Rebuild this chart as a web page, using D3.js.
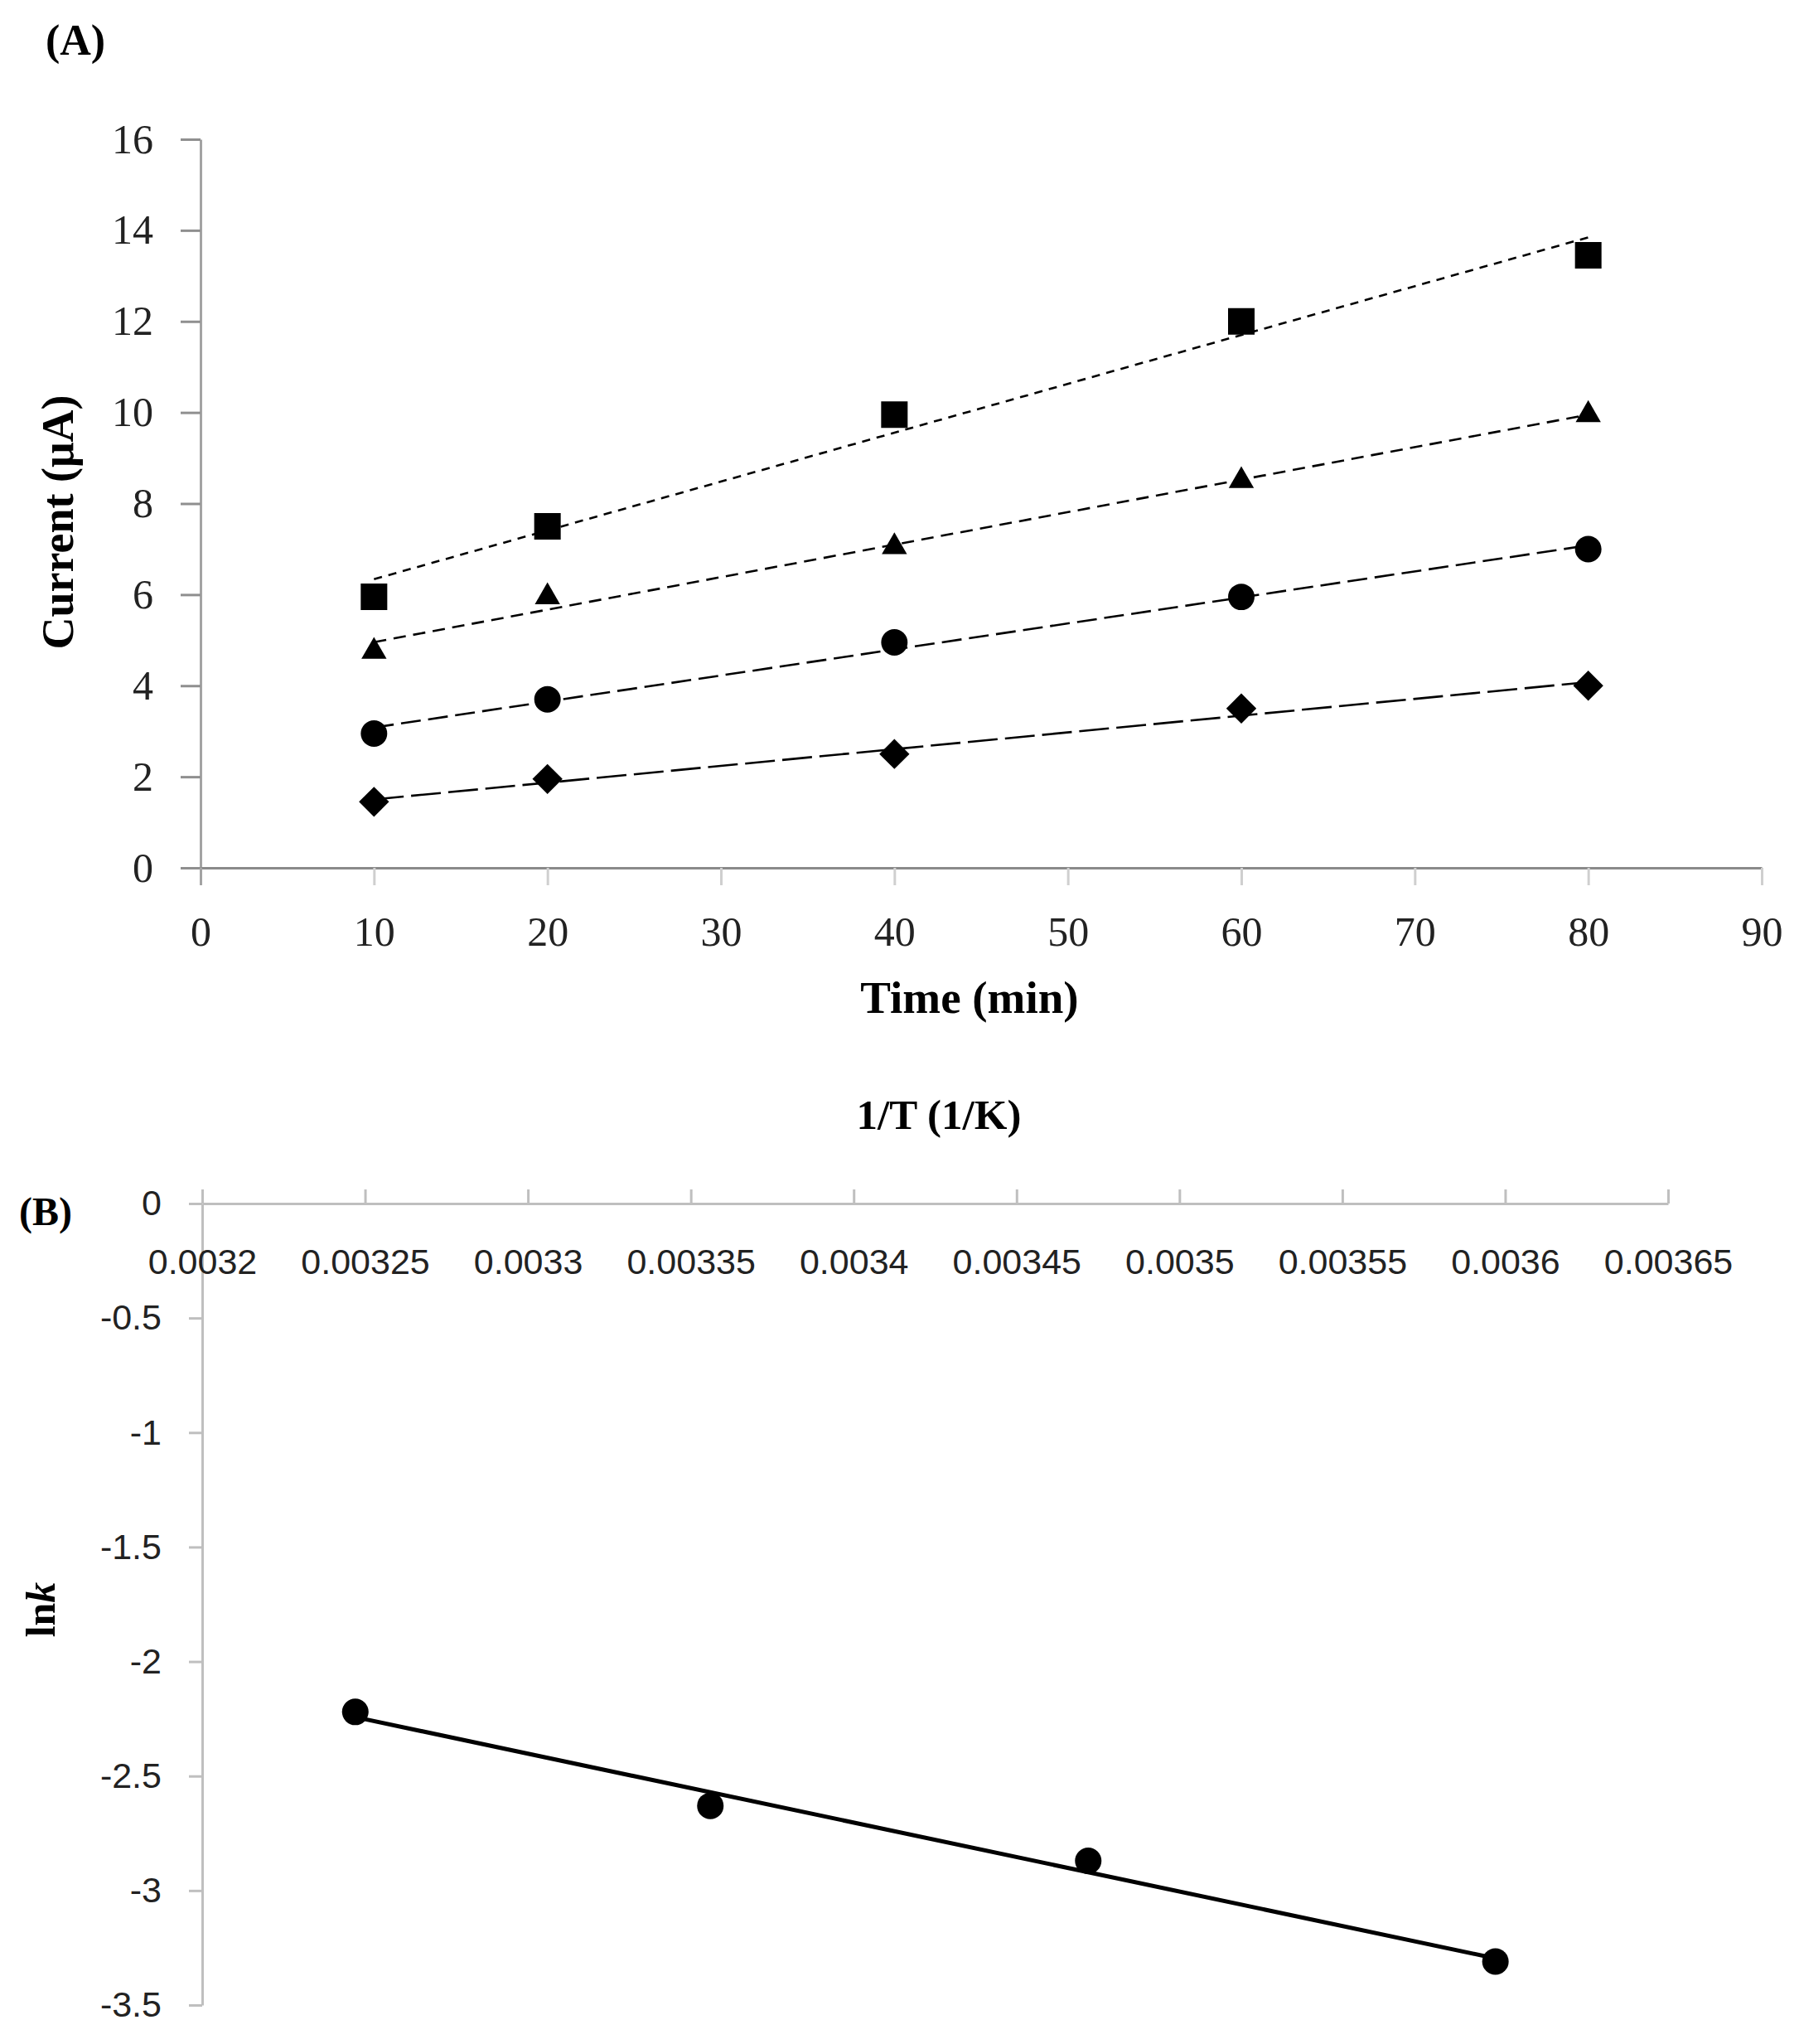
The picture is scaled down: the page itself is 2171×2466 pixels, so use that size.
<!DOCTYPE html>
<html>
<head>
<meta charset="utf-8">
<script src="https://cdn.jsdelivr.net/npm/d3@7"></script>
<style>
  body { margin: 0; background: #fff; }
  svg { display: block; }
  .serif { font-family: "Liberation Serif", "Times New Roman", serif; }
  .sans { font-family: "Liberation Sans", Arial, sans-serif; }
</style>
</head>
<body>
<svg id="chart" width="2171" height="2466"></svg>
<script>
// Panel A: current vs time, four series
const timeMin = [10, 20, 40, 60, 80];
const currentSquare = [5.95, 7.5, 9.95, 12.0, 13.45];
const currentTriangle = [4.75, 5.95, 7.05, 8.5, 9.95];
const currentCircle = [2.95, 3.7, 4.95, 5.95, 7.0];
const currentDiamond = [1.45, 1.95, 2.5, 3.5, 4.0];
const timeTicks = [0, 10, 20, 30, 40, 50, 60, 70, 80, 90];
const currentTicks = [0, 2, 4, 6, 8, 10, 12, 14, 16];

// Panel B: Arrhenius plot
const invTemp = [0.003247, 0.003356, 0.003472, 0.003597];
const lnK = [-2.22, -2.63, -2.87, -3.31];
const invTempTicks = [0.0032, 0.00325, 0.0033, 0.00335, 0.0034, 0.00345, 0.0035, 0.00355, 0.0036, 0.00365];
const lnKTicks = [0, -0.5, -1, -1.5, -2, -2.5, -3, -3.5];

const svg = d3.select("#chart");
svg.append("rect").attr("width", 2171).attr("height", 2466).attr("fill", "#fff");

// least squares line, like the Excel trendline
function linFit(xs, ys) {
  const mx = d3.mean(xs), my = d3.mean(ys);
  let sxy = 0, sxx = 0;
  xs.forEach((x, i) => { sxy += (x - mx) * (ys[i] - my); sxx += (x - mx) * (x - mx); });
  const slope = sxy / sxx;
  return { slope: slope, intercept: my - slope * mx };
}

// ---------- Panel A ----------
const xA = d3.scaleLinear().domain([0, 90]).range([242, 2126]);
const yA = d3.scaleLinear().domain([0, 16]).range([1047, 168]);

const gA = svg.append("g");

const yAxisA = gA.append("g")
  .attr("transform", `translate(${xA(0)},0)`)
  .call(d3.axisLeft(yA).tickValues(currentTicks).tickSize(24).tickSizeOuter(0).tickPadding(33).tickFormat(d => String(d)));
yAxisA.select(".domain").attr("stroke", "#a3a3a3").attr("stroke-width", 3);
yAxisA.selectAll(".tick line").attr("stroke", "#8f8f8f").attr("stroke-width", 3);
yAxisA.selectAll(".tick text").attr("class", "serif").attr("font-size", 50).attr("fill", "#222");

const xAxisA = gA.append("g")
  .attr("transform", `translate(0,${yA(0)})`)
  .call(d3.axisBottom(xA).tickValues(timeTicks).tickSize(21).tickSizeOuter(0).tickPadding(37).tickFormat(d => String(d)));
xAxisA.select(".domain").attr("stroke", "#8a8a8a").attr("stroke-width", 3);
xAxisA.selectAll(".tick line").attr("stroke", "#cfcfcf").attr("stroke-width", 3);
xAxisA.selectAll(".tick text").attr("class", "serif").attr("font-size", 50).attr("fill", "#222");
// the 0 tick continues the vertical axis
xAxisA.selectAll(".tick line").filter(d => d === 0).attr("stroke", "#a3a3a3");

const seriesA = [
  { values: currentSquare, symbol: d3.symbolSquare, size: 1024, rotate: 0, dash: "10,8" },
  { values: currentTriangle, symbol: d3.symbolTriangle, size: 400, rotate: 0, dash: "15,9" },
  { values: currentCircle, symbol: d3.symbolCircle, size: 800, rotate: 0, dash: "24,9" },
  { values: currentDiamond, symbol: d3.symbolSquare, size: 660, rotate: 45, dash: "36,9" }
];

seriesA.forEach(s => {
  const fit = linFit(timeMin, s.values);
  const x0 = d3.min(timeMin), x1 = d3.max(timeMin);
  gA.append("line")
    .attr("x1", xA(x0)).attr("y1", yA(fit.intercept + fit.slope * x0))
    .attr("x2", xA(x1)).attr("y2", yA(fit.intercept + fit.slope * x1))
    .attr("stroke", "#000")
    .attr("stroke-width", 2.6)
    .attr("stroke-dasharray", s.dash);

  gA.selectAll(null)
    .data(timeMin.map((t, i) => [t, s.values[i]]))
    .enter()
    .append("path")
    .attr("d", d3.symbol().type(s.symbol).size(s.size))
    .attr("transform", d => `translate(${xA(d[0])},${yA(d[1])}) rotate(${s.rotate})`)
    .attr("fill", "#000");
});

gA.append("text")
  .attr("class", "serif")
  .attr("x", 55).attr("y", 66)
  .attr("font-size", 52).attr("font-weight", "bold")
  .text("(A)");

gA.append("text")
  .attr("class", "serif")
  .attr("transform", "translate(88,630) rotate(-90)")
  .attr("text-anchor", "middle")
  .attr("font-size", 54).attr("font-weight", "bold")
  .text("Current (μA)");

gA.append("text")
  .attr("class", "serif")
  .attr("x", 1170).attr("y", 1222)
  .attr("text-anchor", "middle")
  .attr("font-size", 55).attr("font-weight", "bold")
  .text("Time (min)");

// ---------- Panel B ----------
const xB = d3.scaleLinear().domain([0.0032, 0.00365]).range([244, 2013]);
const yB = d3.scaleLinear().domain([-3.5, 0]).range([2419, 1452]);

const gB = svg.append("g");

const yAxisB = gB.append("g")
  .attr("transform", `translate(${xB(0.0032)},0)`)
  .call(d3.axisLeft(yB).tickValues(lnKTicks).tickSize(16).tickSizeOuter(0).tickPadding(33).tickFormat(d => String(d)));
yAxisB.select(".domain").attr("stroke", "#bfbfbf").attr("stroke-width", 3);
yAxisB.selectAll(".tick line").attr("stroke", "#bfbfbf").attr("stroke-width", 3);
yAxisB.selectAll(".tick text").attr("class", "sans").attr("font-size", 43).attr("fill", "#222");

const xAxisB = gB.append("g")
  .attr("transform", `translate(0,${yB(0)})`)
  .call(d3.axisBottom(xB).tickValues(invTempTicks).tickSize(-17).tickSizeOuter(0).tickPadding(54).tickFormat(d => String(d)));
xAxisB.select(".domain").attr("stroke", "#bfbfbf").attr("stroke-width", 3);
xAxisB.selectAll(".tick line").attr("stroke", "#bfbfbf").attr("stroke-width", 3);
xAxisB.selectAll(".tick text").attr("class", "sans").attr("font-size", 43).attr("fill", "#222");

const fitB = linFit(invTemp, lnK);
const bx0 = d3.min(invTemp), bx1 = d3.max(invTemp);
gB.append("line")
  .attr("x1", xB(bx0)).attr("y1", yB(fitB.intercept + fitB.slope * bx0))
  .attr("x2", xB(bx1)).attr("y2", yB(fitB.intercept + fitB.slope * bx1))
  .attr("stroke", "#000")
  .attr("stroke-width", 5);

gB.selectAll("circle.pt")
  .data(invTemp.map((t, i) => [t, lnK[i]]))
  .enter()
  .append("circle")
  .attr("class", "pt")
  .attr("cx", d => xB(d[0]))
  .attr("cy", d => yB(d[1]))
  .attr("r", 16)
  .attr("fill", "#000");

gB.append("text")
  .attr("class", "serif")
  .attr("x", 23).attr("y", 1478)
  .attr("font-size", 48).attr("font-weight", "bold")
  .text("(B)");

gB.append("text")
  .attr("class", "serif")
  .attr("x", 1133).attr("y", 1362)
  .attr("text-anchor", "middle")
  .attr("font-size", 51).attr("font-weight", "bold")
  .text("1/T (1/K)");

const lnkLabel = gB.append("text")
  .attr("class", "serif")
  .attr("transform", "translate(66,1942) rotate(-90)")
  .attr("text-anchor", "middle")
  .attr("font-size", 50).attr("font-weight", "bold");
lnkLabel.append("tspan").text("ln");
lnkLabel.append("tspan").attr("font-style", "italic").text("k");
</script>
</body>
</html>
